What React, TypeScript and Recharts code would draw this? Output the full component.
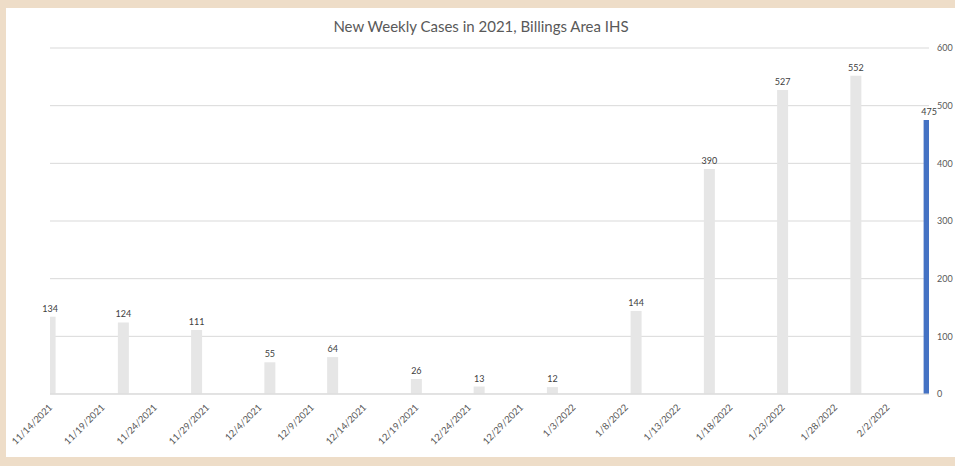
import React from "react";
import {
  BarChart, Bar, XAxis, YAxis, CartesianGrid, Cell, LabelList,
} from "recharts";

// week start dates and new cases
const WEEKS = [
  "2021-11-14", "2021-11-21", "2021-11-28", "2021-12-05", "2021-12-11",
  "2021-12-19", "2021-12-25", "2022-01-01", "2022-01-09", "2022-01-16",
  "2022-01-23", "2022-01-30", "2022-02-06",
];
const CASES = [134, 124, 111, 55, 64, 26, 13, 12, 144, 390, 527, 552, 475];

const TICK_LABELS = [
  "11/14/2021", "11/19/2021", "11/24/2021", "11/29/2021", "12/4/2021",
  "12/9/2021", "12/14/2021", "12/19/2021", "12/24/2021", "12/29/2021",
  "1/3/2022", "1/8/2022", "1/13/2022", "1/18/2022", "1/23/2022",
  "1/28/2022", "2/2/2022",
];
const Y_TICKS = [0, 100, 200, 300, 400, 500, 600];

const DAY = 86400000;
const ORIGIN = Date.UTC(2021, 10, 14);

function isoToDay(s: string) {
  const [y, m, d] = s.split("-").map(Number);
  return (Date.UTC(y, m - 1, d) - ORIGIN) / DAY;
}
function usToDay(s: string) {
  const [m, d, y] = s.split("/").map(Number);
  return (Date.UTC(y, m - 1, d) - ORIGIN) / DAY;
}

const data = WEEKS.map((w, i) => ({ day: isoToDay(w), cases: CASES[i] }));
const tickDays = TICK_LABELS.map(usToDay);
const labelByDay: Record<number, string> = {};
TICK_LABELS.forEach((t, i) => { labelByDay[tickDays[i]] = t; });

const FONT = "Lato, 'Open Sans', sans-serif";

function DateTick({ x, y, payload }: { x?: number; y?: number; payload?: { value: number } }) {
  const ax = (x ?? 0) + 3;
  const ay = (y ?? 0) + 6;
  return (
    <text
      x={ax}
      y={ay}
      textAnchor="end"
      fontSize={9.5}
      fill="#595959"
      fontFamily={FONT}
      transform={`rotate(-45 ${ax} ${ay})`}
    >
      {labelByDay[payload?.value ?? 0]}
    </text>
  );
}

export default function App() {
  return (
    <div style={{ position: "absolute", left: 0, top: 0, width: 955, height: 466, background: "#EEDDC8" }}>
      <div style={{ position: "absolute", left: 6, top: 8, width: 949, height: 449, background: "#fff" }} />
      <div
        style={{
          position: "absolute", left: 0, top: 17, width: 962, textAlign: "center",
          fontFamily: FONT, fontSize: 15, color: "#595959",
        }}
      >
        New Weekly Cases in 2021, Billings Area IHS
      </div>
      <div style={{ position: "absolute", left: 0, top: 0 }}>
        <BarChart
          width={955}
          height={466}
          data={data}
          margin={{ top: 48, right: 0, left: 50, bottom: 12 }}
        >
          <CartesianGrid horizontal vertical={false} stroke="#D9D9D9" />
          <XAxis
            dataKey="day"
            type="number"
            domain={[data[0].day, data[data.length - 1].day]}
            ticks={tickDays}
            interval={0}
            allowDataOverflow
            height={60}
            tickLine={false}
            axisLine={{ stroke: "#D9D9D9" }}
            tick={<DateTick />}
          />
          <YAxis
            orientation="right"
            width={26}
            domain={[0, 600]}
            ticks={Y_TICKS}
            axisLine={false}
            tickLine={false}
            tick={{ fill: "#595959", fontSize: 9, fontFamily: FONT, textAnchor: "start" }}
          />
          <Bar dataKey="cases" barSize={11} isAnimationActive={false}>
            {data.map((_, i) => (
              <Cell key={i} fill={i === data.length - 1 ? "#4472C4" : "#E6E6E6"} />
            ))}
            <LabelList
              dataKey="cases"
              position="top"
              offset={5}
              fill="#404040"
              fontSize={9}
              fontFamily={FONT}
            />
          </Bar>
        </BarChart>
      </div>
    </div>
  );
}
